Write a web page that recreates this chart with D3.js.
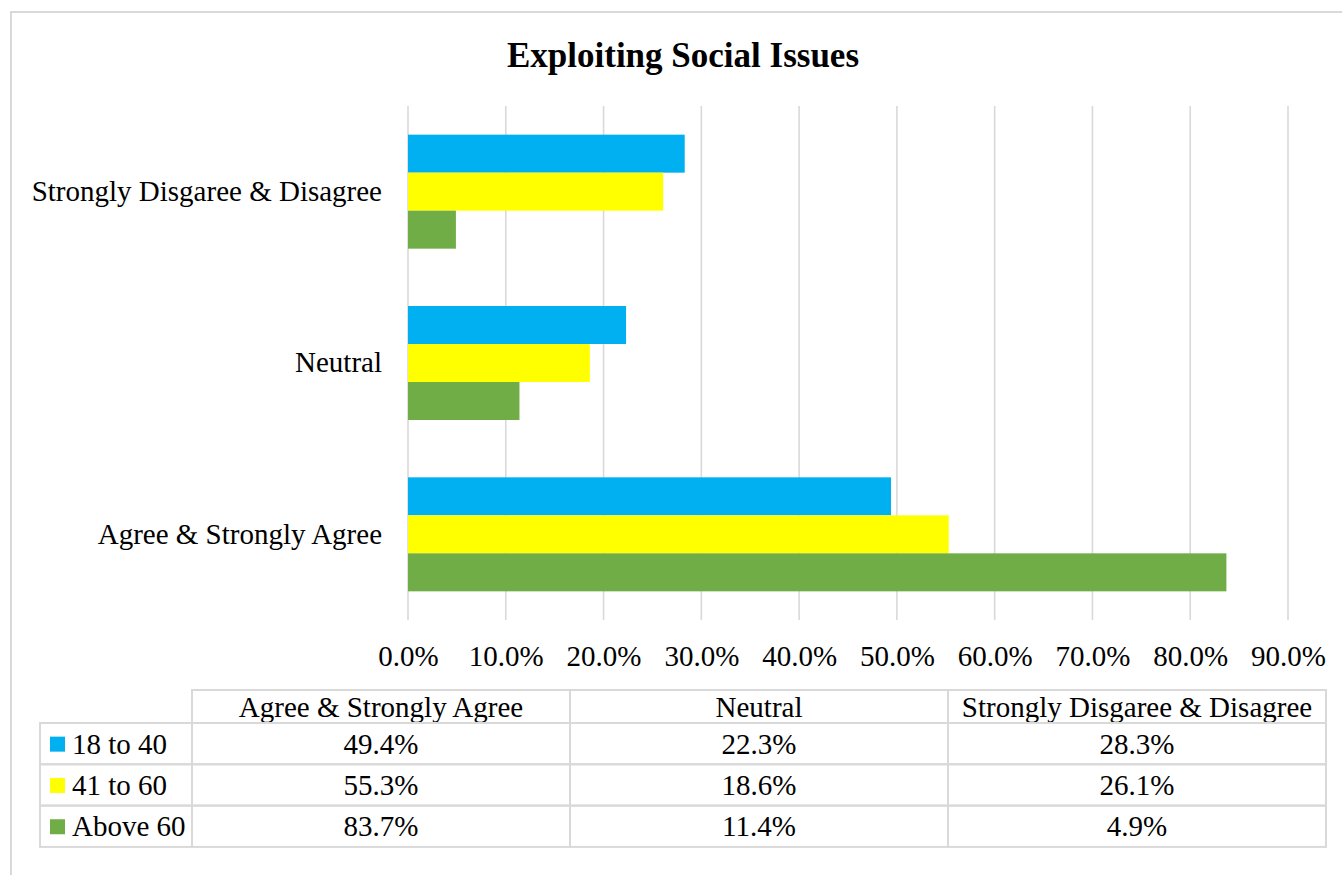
<!DOCTYPE html>
<html>
<head>
<meta charset="utf-8">
<script src="https://cdn.jsdelivr.net/npm/d3@7"></script>
<style>
  body { margin: 0; background: #fff; }
  svg text { font-family: "Times New Roman", "Liberation Serif", serif; fill: #000; }
</style>
</head>
<body>
<svg id="chart" width="1342" height="875"></svg>
<script>
var categories = ["Agree & Strongly Agree", "Neutral", "Strongly Disgaree & Disagree"];
var seriesNames = ["18 to 40", "41 to 60", "Above 60"];
var seriesColors = ["#00b0f0", "#ffff00", "#70ad47"];
var young = [0.494, 0.223, 0.283];
var middle = [0.553, 0.186, 0.261];
var older = [0.837, 0.114, 0.049];
var tickValues = [0, 0.1, 0.2, 0.3, 0.4, 0.5, 0.6, 0.7, 0.8, 0.9];

var values = [young, middle, older];

var svg = d3.select("#chart"),
  plot = { left: 408, right: 1288, top: 106, bottom: 620 },
  table = { left: 40, firstCol: 192, right: 1326, top: 690, headH: 33, rowH: 41.3 };

var grey = "#d9d9d9";
var fontSize = 29;

// chart frame (only top/left visible, rest is cropped in the original)
svg.append("rect")
  .attr("x", 11).attr("y", 12)
  .attr("width", 1400).attr("height", 900)
  .attr("fill", "none")
  .attr("stroke", grey)
  .attr("stroke-width", 2);

svg.append("text")
  .attr("x", 683).attr("y", 67)
  .attr("text-anchor", "middle")
  .style("font-size", "35px")
  .style("font-weight", "bold")
  .text("Exploiting Social Issues");

var x = d3.scaleLinear().domain([0, 0.9]).range([plot.left, plot.right]);

var y = d3.scaleBand()
  .domain(categories.slice().reverse())
  .range([plot.top, plot.bottom])
  .paddingInner(0.3346)
  .paddingOuter(0.1673);

var ySeries = d3.scaleBand()
  .domain(seriesNames)
  .range([0, y.bandwidth()]);

// gridlines
svg.append("g")
  .selectAll("line")
  .data(tickValues)
  .join("line")
  .attr("x1", d => x(d)).attr("x2", d => x(d))
  .attr("y1", plot.top).attr("y2", plot.bottom)
  .attr("stroke", grey)
  .attr("stroke-width", 1.6);

// bars
seriesNames.forEach(function(s, si) {
  svg.append("g")
    .attr("fill", seriesColors[si])
    .selectAll("rect")
    .data(categories)
    .join("rect")
    .attr("x", x(0))
    .attr("y", d => y(d) + ySeries(s))
    .attr("width", (d, i) => x(values[si][i]) - x(0))
    .attr("height", ySeries.bandwidth());
});

// category labels
var yAxis = d3.axisLeft(y).tickSize(0).tickPadding(26);
var yg = svg.append("g")
  .attr("transform", "translate(" + plot.left + ",0)")
  .call(yAxis);
yg.select(".domain").remove();
yg.selectAll("text").style("font-size", fontSize + "px").attr("fill", "#000");

// x tick labels
var xAxis = d3.axisBottom(x).tickValues(tickValues).tickSize(0).tickPadding(25)
  .tickFormat(d3.format(".1%"));
var xg = svg.append("g")
  .attr("transform", "translate(0," + plot.bottom + ")")
  .call(xAxis);
xg.select(".domain").remove();
xg.selectAll("text").style("font-size", fontSize + "px").attr("fill", "#000");

// data table
var colX = d3.scaleBand().domain(categories).range([table.firstCol, table.right]);
var tb = svg.append("g");
var rowsTop = table.top + table.headH;

// header cells
tb.selectAll(".hcell")
  .data(categories)
  .join("rect")
  .attr("x", d => colX(d)).attr("y", table.top)
  .attr("width", colX.bandwidth()).attr("height", table.headH)
  .attr("fill", "none").attr("stroke", grey).attr("stroke-width", 2);

tb.selectAll(".htext")
  .data(categories)
  .join("text")
  .attr("x", d => colX(d) + colX.bandwidth() / 2)
  .attr("y", table.top + table.headH / 2 + 10)
  .attr("text-anchor", "middle")
  .style("font-size", fontSize + "px")
  .text(d => d);

seriesNames.forEach(function(s, si) {
  var ry = rowsTop + si * table.rowH;
  var row = tb.append("g");
  row.append("rect")
    .attr("x", table.left).attr("y", ry)
    .attr("width", table.firstCol - table.left).attr("height", table.rowH)
    .attr("fill", "none").attr("stroke", grey).attr("stroke-width", 2);
  row.append("rect")
    .attr("x", 50).attr("y", ry + table.rowH / 2 - 7)
    .attr("width", 15).attr("height", 15)
    .attr("fill", seriesColors[si]);
  row.append("text")
    .attr("x", 72).attr("y", ry + table.rowH / 2 + 10)
    .style("font-size", fontSize + "px")
    .text(s);
  row.selectAll(".cell")
    .data(categories)
    .join("rect")
    .attr("x", d => colX(d)).attr("y", ry)
    .attr("width", colX.bandwidth()).attr("height", table.rowH)
    .attr("fill", "none").attr("stroke", grey).attr("stroke-width", 2);
  row.selectAll(".val")
    .data(values[si])
    .join("text")
    .attr("x", (d, i) => colX(categories[i]) + colX.bandwidth() / 2)
    .attr("y", ry + table.rowH / 2 + 10)
    .attr("text-anchor", "middle")
    .style("font-size", fontSize + "px")
    .text(d => d3.format(".1%")(d));
});
</script>
</body>
</html>
